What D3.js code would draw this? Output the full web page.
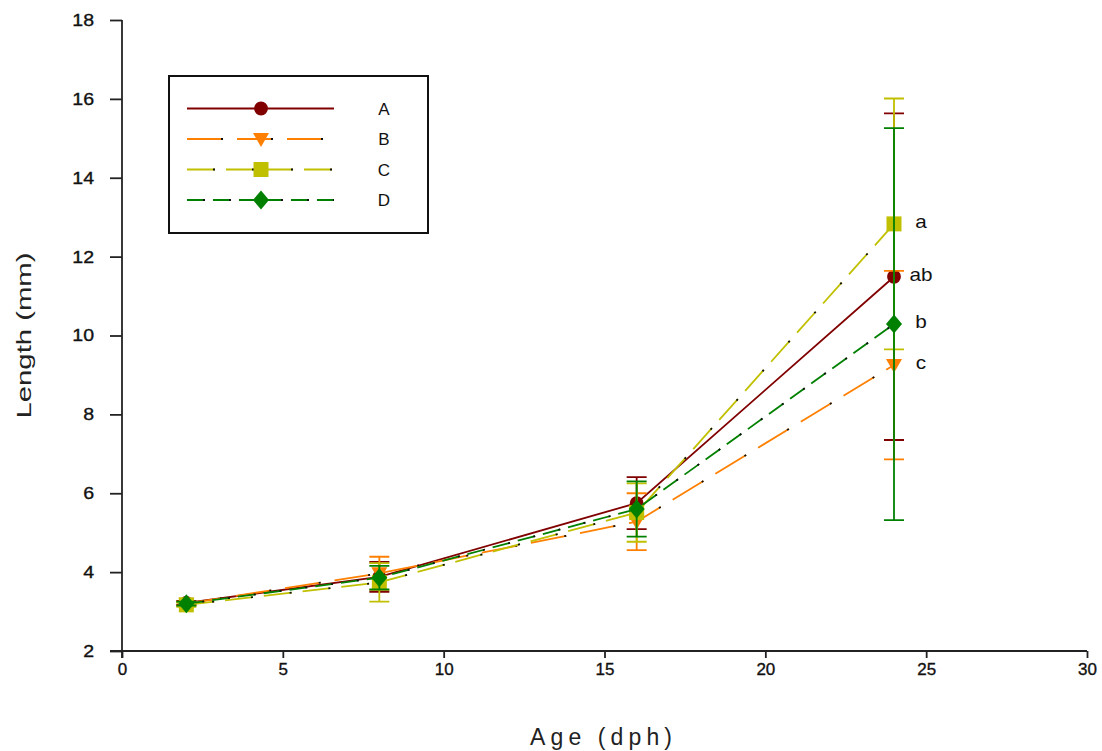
<!DOCTYPE html>
<html>
<head>
<meta charset="utf-8">
<script src="https://cdn.jsdelivr.net/npm/d3@7"></script>
<style>
  body { margin: 0; background: #fff; }
  svg { font-family: Arial, "Liberation Sans", sans-serif; }
</style>
</head>
<body>
<div id="chart"></div>
<script>
"use strict"

// fish length by age, four treatments (mean and error)
const ages = [2, 8, 16, 24];
const seriesNames = ["A", "B", "C", "D"];
const meanA = [3.22, 3.88, 5.75, 11.49];
const errA  = [0.05, 0.38, 0.66, 4.14];
const meanB = [3.20, 3.97, 5.28, 9.25];
const errB  = [0.05, 0.42, 0.72, 2.39];
const meanC = [3.17, 3.74, 5.51, 12.83];
const errC  = [0.05, 0.49, 0.74, 3.18];
const meanD = [3.20, 3.86, 5.60, 10.29];
const errD  = [0.05, 0.30, 0.70, 4.97];
const lastLetters = ["ab", "c", "a", "b"];   // significance letters at 24 dph
const xTicks = [0, 5, 10, 15, 20, 25, 30];
const yTicks = [2, 4, 6, 8, 10, 12, 14, 16, 18];

const styles = [
	{ color: "#800000", dash: null,  marker: "circle" },
	{ color: "#ff8000", dash: [36, 14], marker: "triangle" },
	{ color: "#c0c000", dash: [28, 11], marker: "square" },
	{ color: "#008000", dash: [18, 8],  marker: "diamond" }
];

const series = seriesNames.map((name, i) => ({
	name: name,
	mean: [meanA, meanB, meanC, meanD][i],
	err: [errA, errB, errC, errD][i],
	letter: lastLetters[i],
	style: styles[i]
}));

const totalWidth = 1102, totalHeight = 751;
const margin = { left: 122, right: 15, top: 20, bottom: 100 };

const svg = d3.select("#chart").append("svg")
	.attr("width", totalWidth)
	.attr("height", totalHeight);

const xScale = d3.scaleLinear().domain([0, 30]).range([margin.left, totalWidth - margin.right]);
const yScale = d3.scaleLinear().domain([2, 18]).range([totalHeight - margin.bottom, margin.top]);

// axes
const yAxis = svg.append("g")
	.attr("transform", `translate(${margin.left},0)`)
	.call(d3.axisLeft(yScale).tickValues(yTicks).tickSize(12).tickPadding(16).tickSizeOuter(0));
yAxis.select(".domain").attr("stroke", "#222").attr("stroke-width", 1.8)
	.attr("d", `M0,${yScale(18)}V${yScale(2) + 7}`);
yAxis.selectAll(".tick line").attr("stroke", "#222").attr("stroke-width", 1.8);
yAxis.selectAll(".tick text")
	.attr("font-size", 17).attr("fill", "#111")
	.attr("stroke", "#111").attr("stroke-width", 0.35)
	.attr("x", -28 / 1.15)
	.attr("transform", "scale(1.15,1)");

const xAxis = svg.append("g")
	.attr("transform", `translate(0,${yScale(2)})`)
	.call(d3.axisBottom(xScale).tickValues(xTicks).tickSize(7).tickPadding(5).tickSizeOuter(0));
xAxis.select(".domain").attr("stroke", "#222").attr("stroke-width", 1.8)
	.attr("d", `M${margin.left - 12},0H${xScale(30)}`);
xAxis.selectAll(".tick line").attr("stroke", "#222").attr("stroke-width", 1.8);
xAxis.selectAll(".tick text").attr("font-size", 17).attr("fill", "#111")
	.attr("stroke", "#111").attr("stroke-width", 0.35);

svg.append("text")
	.attr("x", 530).attr("y", 745)
	.attr("font-size", 23).attr("fill", "#222")
	.attr("textLength", 142).attr("lengthAdjust", "spacing")
	.text("Age (dph)");

svg.append("text")
	.attr("transform", `translate(31,${(yScale(2) + yScale(18)) / 2 + 83})rotate(-90)`)
	.attr("font-size", 21).attr("fill", "#222")
	.attr("textLength", 166).attr("lengthAdjust", "spacingAndGlyphs")
	.text("Length (mm)");

function markerPath(type) {
	if (type === "circle") return d3.symbol(d3.symbolCircle, 150)();
	if (type === "triangle") return "M-8,-6L8,-6L0,8Z";
	if (type === "square") return "M-7.5,-7.5H7.5V7.5H-7.5Z";
	return "M0,-9.5L8,0L0,9.5L-8,0Z";
}

function drawLine(g, pts, st) {
	const path = g.append("path")
		.attr("d", pts)
		.attr("fill", "none")
		.attr("stroke", st.color)
		.attr("stroke-width", 1.8);
	if (st.dash) {
		path.attr("stroke-dasharray", st.dash.join(","));
		// small dark dot at the end of each dash
		g.append("path")
			.attr("d", pts)
			.attr("fill", "none")
			.attr("stroke", "#111")
			.attr("stroke-width", 1.8)
			.attr("stroke-dasharray", `0,${st.dash[0] - 2},2,${st.dash[1]}`);
	}
}

const lineGen = d3.line().x(d => xScale(d[0])).y(d => yScale(d[1]));

const plot = svg.append("g");
series.forEach(s => {
	const g = plot.append("g").attr("class", "series");
	const pts = ages.map((a, i) => [a, s.mean[i]]);
	drawLine(g, lineGen(pts), s.style);

	ages.forEach((a, i) => {
		const cx = xScale(a);
		const top = yScale(s.mean[i] + s.err[i]);
		const bot = yScale(s.mean[i] - s.err[i]);
		g.append("path")
			.attr("d", `M${cx},${top}V${bot}M${cx - 10},${top}H${cx + 10}M${cx - 10},${bot}H${cx + 10}`)
			.attr("stroke", s.style.color)
			.attr("stroke-width", 1.8)
			.attr("fill", "none");
	});

	g.selectAll(".marker")
		.data(pts)
		.enter().append("path")
			.attr("class", "marker")
			.attr("transform", d => `translate(${xScale(d[0])},${yScale(d[1])})`)
			.attr("d", markerPath(s.style.marker))
			.attr("fill", s.style.color);

	g.append("text")
		.attr("x", xScale(24) + 27)
		.attr("y", yScale(s.mean[3]) + 4)
		.attr("text-anchor", "middle")
		.attr("font-size", 18).attr("fill", "#111")
		.attr("transform", `translate(${-(xScale(24) + 27) * 0.15},0) scale(1.15,1)`)
		.text(s.letter);
});

// legend
const legend = svg.append("g");
legend.append("rect")
	.attr("x", 169).attr("y", 76).attr("width", 259).attr("height", 157)
	.attr("fill", "#fff").attr("stroke", "#111").attr("stroke-width", 2);
series.forEach((s, i) => {
	const ly = 108.5 + i * 30.5;
	const g = legend.append("g");
	drawLine(g, `M187,${ly}H334`, s.style);
	g.append("path")
		.attr("transform", `translate(261,${ly})`)
		.attr("d", markerPath(s.style.marker))
		.attr("fill", s.style.color);
	g.append("text")
		.attr("x", 384).attr("y", ly + 6)
		.attr("text-anchor", "middle")
		.attr("font-size", 17).attr("fill", "#111")
		.text(s.name);
});
</script>
</body>
</html>
